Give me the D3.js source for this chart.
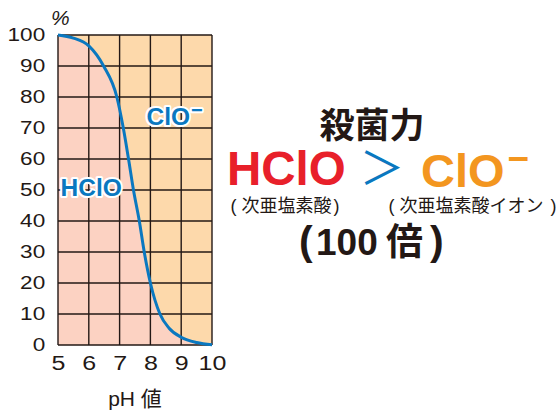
<!DOCTYPE html>
<html><head><meta charset="utf-8">
<script src="https://cdn.jsdelivr.net/npm/d3@7"></script>
<style>
html,body{margin:0;padding:0;background:#fff;}
svg{display:block;}
</style></head>
<body>
<svg id="c" width="560" height="412"></svg>
<script>
// ---- data ----
const phValues  = [5, 5.5, 6, 6.48, 6.91, 7.12, 7.29, 7.45, 7.64, 7.8, 8, 8.31, 8.6, 9, 9.5, 10];
const hclo      = [100, 99, 96.5, 90, 80, 70, 60, 50, 40, 30, 20, 10, 5.5, 2.5, 0.8, 0.1];
const xTicks    = [5, 6, 7, 8, 9, 10];
const yTicks    = [0, 10, 20, 30, 40, 50, 60, 70, 80, 90, 100];
const xTitle    = "pH 値";
const yUnit     = "%";

const svg = d3.select("#c");
const dark = "#231815";
const latin = "'Liberation Sans', Arial, sans-serif";
const jp = "'Liberation Sans', 'Noto Sans CJK JP', sans-serif";

const x = d3.scaleLinear().domain([5, 10]).range([58, 212]);
const y = d3.scaleLinear().domain([0, 100]).range([345, 35]);
const data = phValues.map((p, i) => ({p, v: hclo[i]}));

// background (ClO- region)
svg.append("rect").attr("x", x(5)).attr("y", y(100))
  .attr("width", x(10) - x(5)).attr("height", y(0) - y(100))
  .attr("fill", "#fdd9ab");
// HClO region
svg.append("path").datum(data)
  .attr("d", d3.area().x(d => x(d.p)).y0(y(0)).y1(d => y(d.v)).curve(d3.curveMonotoneX))
  .attr("fill", "#fcd2c2");

// grid
const g = svg.append("g").attr("stroke", dark).attr("stroke-width", 1.4);
xTicks.forEach(t => g.append("line").attr("x1", x(t)).attr("x2", x(t)).attr("y1", y(0)).attr("y2", y(100)));
yTicks.forEach(t => g.append("line").attr("x1", x(5)).attr("x2", x(10)).attr("y1", y(t)).attr("y2", y(t)));

// axes via d3
const yAxis = svg.append("g").attr("transform", `translate(${x(5)},0)`)
  .call(d3.axisLeft(y).tickValues(yTicks).tickFormat(d3.format("d")).tickSize(0).tickPadding(10.5));
const xAxis = svg.append("g").attr("transform", `translate(0,${y(0)})`)
  .call(d3.axisBottom(x).tickValues(xTicks).tickFormat(d3.format("d")).tickSize(0).tickPadding(11));
[yAxis, xAxis].forEach(a => a.select(".domain").remove());
yAxis.selectAll("text").attr("font-family", latin).attr("font-size", 18.5).attr("fill", dark)
  .attr("transform", "scale(1.22,1)");
xAxis.selectAll("text").attr("font-family", latin).attr("font-size", 20).attr("fill", dark)
  .attr("transform", "scale(1.25,1)");

// curve
svg.append("path").datum(data)
  .attr("d", d3.line().x(d => x(d.p)).y(d => y(d.v)).curve(d3.curveMonotoneX))
  .attr("fill", "none").attr("stroke", "#0a78c0").attr("stroke-width", 3);

// unit & title
svg.append("text").attr("x", 51).attr("y", 25).text(yUnit)
  .attr("font-family", latin).attr("font-size", 21).attr("font-style", "italic").attr("fill", dark);
svg.append("text").attr("x", 135).attr("y", 406).attr("text-anchor", "middle").text(xTitle)
  .attr("font-family", jp).attr("font-size", 21).attr("fill", dark);

// in-chart labels
function outlined(t) {
  return t.attr("font-family", latin).attr("font-weight", "bold").attr("fill", "#0a78c0")
    .attr("stroke", "#fff").attr("stroke-width", 4).attr("stroke-linejoin", "round")
    .attr("paint-order", "stroke");
}
outlined(svg.append("text").attr("x", 60.5).attr("y", 196).attr("font-size", 24.5).text("HClO"));
const cl = outlined(svg.append("text").attr("x", 146.5).attr("y", 125).attr("font-size", 24.5));
cl.append("tspan").text("ClO");
cl.append("tspan").attr("font-size", 20).attr("dy", -8.5).attr("dx", 1).text("−");

// right side text
svg.append("text").attr("x", 372).attr("y", 137.5).attr("text-anchor", "middle")
  .attr("font-family", jp).attr("font-weight", "bold")
  .attr("font-size", 35).attr("fill", dark).text("殺菌力");

svg.append("text").attr("x", 227).attr("y", 185).attr("font-family", latin)
  .attr("font-weight", "bold").attr("font-size", 47.5).attr("fill", "#e8202a").text("HClO");

svg.append("text").attr("x", 382).attr("y", 185).attr("text-anchor", "middle")
  .attr("font-family", jp).attr("font-size", 45)
  .attr("fill", "#0a78c0").text("＞");

const oc = svg.append("text").attr("x", 421).attr("y", 187).attr("font-family", latin)
  .attr("font-weight", "bold").attr("font-size", 47).attr("fill", "#f3961f");
oc.append("tspan").text("ClO");
oc.append("tspan").attr("font-size", 37).attr("dy", -16).attr("dx", 3).text("−");

const s1 = svg.append("text").attr("y", 212).attr("font-family", jp).attr("font-size", 18).attr("fill", dark);
s1.append("tspan").attr("x", 230.5).text("(");
s1.append("tspan").attr("x", 241.5).text("次亜塩素酸");
s1.append("tspan").attr("x", 333.5).text(")");

const s2 = svg.append("text").attr("y", 212).attr("font-family", jp).attr("font-size", 18).attr("fill", dark);
s2.append("tspan").attr("x", 388.5).text("(");
s2.append("tspan").attr("x", 399.5).text("次亜塩素酸イオン");
s2.append("tspan").attr("x", 550.5).text(")");

const m = svg.append("text").attr("y", 255).attr("font-family", jp).attr("font-weight", "bold")
  .attr("font-size", 37).attr("fill", dark);
m.append("tspan").attr("x", 299).attr("font-size", 41).text("(");
m.append("tspan").attr("x", 316).text("100");
m.append("tspan").attr("x", 386).text("倍");
m.append("tspan").attr("x", 430).attr("font-size", 41).text(")");
</script>
</body></html>
